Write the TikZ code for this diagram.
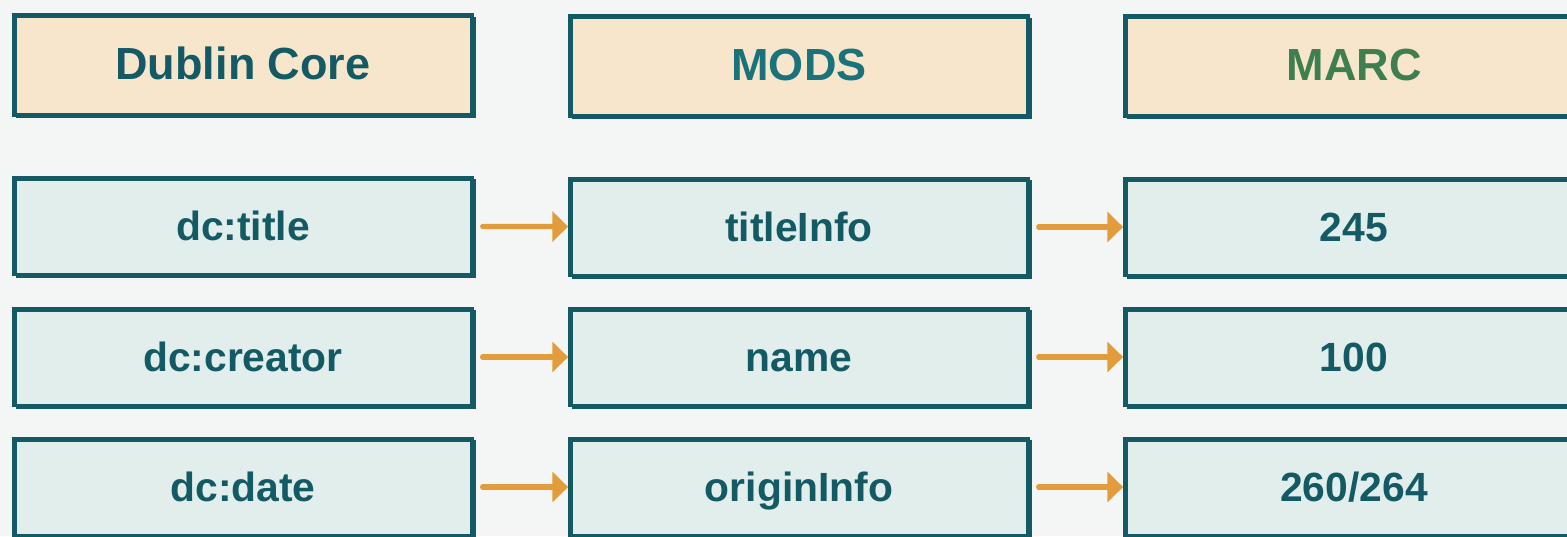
\documentclass[tikz,border=0pt]{standalone}
\usepackage{fontspec}
\setmainfont{Liberation Sans}
\usetikzlibrary{arrows.meta}

\definecolor{bgcol}{HTML}{F4F6F5}
\definecolor{headfill}{HTML}{F7E6CC}
\definecolor{bodyfill}{HTML}{E1EEEB}
\definecolor{edgecol}{HTML}{135A64}
\definecolor{modscol}{HTML}{1A737B}
\definecolor{marccol}{HTML}{3F7F4F}
\definecolor{arrowcol}{HTML}{E29C3B}

\tikzset{
  sketch/.style={draw=edgecol, line width=1pt, text height=0.92em, text depth=0.08em,
    postaction={draw=edgecol, line width=0.45pt,
      transform canvas={shift={(0.8pt,-0.7pt)}}}},
  headbox/.style={sketch, fill=headfill, minimum width=4.58cm,
    minimum height=1.0cm, text=edgecol, font=\bfseries\fontsize{12.8}{14}\selectfont},
  cellbox/.style={sketch, fill=bodyfill, minimum width=4.58cm,
    minimum height=0.97cm, text=edgecol, font=\bfseries\fontsize{11.6}{13}\selectfont},
  maps/.style={draw=arrowcol, line width=1.5pt, line cap=round,
    -{Triangle[length=4.5pt,width=8.5pt]}, shorten <=2.5pt}
}

\begin{document}
\begin{tikzpicture}[x=0.01cm,y=-0.01cm]
        \fill [bgcol] (0,0) rectangle (1567,536);
        \useasboundingbox (0,0) rectangle (1567,536);

        % headers
        \node [headbox] (dc) at (243,65) {Dublin Core};
        \node [headbox, text=modscol] (mods) at (799,66) {MODS};
        \node [headbox, text=marccol] (marc) at (1354,66) {MARC};

        % Dublin Core column
        \node [cellbox] (dctitle) at (243,226) {dc:title};
        \node [cellbox] (dccreator) at (243,357) {dc:creator};
        \node [cellbox] (dcdate) at (243,487) {dc:date};

        % MODS column
        \node [cellbox] (titleinfo) at (799,227) {titleInfo};
        \node [cellbox] (name) at (799,357) {name};
        \node [cellbox] (origininfo) at (799,487) {originInfo};

        % MARC column
        \node [cellbox] (m245) at (1354,227) {245};
        \node [cellbox] (m100) at (1354,357) {100};
        \node [cellbox] (m260) at (1354,487) {260/264};

        \draw [maps] (dctitle) -- (titleinfo);
        \draw [maps] (dccreator) -- (name);
        \draw [maps] (dcdate) -- (origininfo);
        \draw [maps] (titleinfo) -- (m245);
        \draw [maps] (name) -- (m100);
        \draw [maps] (origininfo) -- (m260);
      \end{tikzpicture}
\end{document}
